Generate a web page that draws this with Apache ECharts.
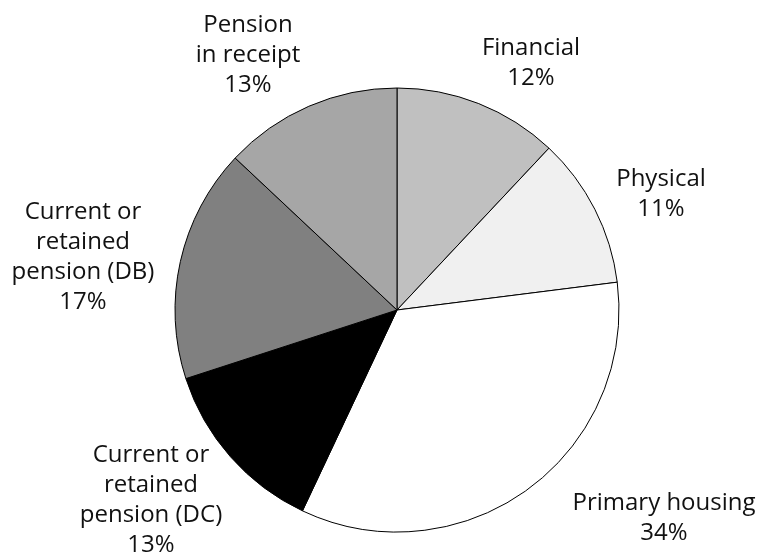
<!DOCTYPE html>
<html><head><meta charset="utf-8">
<script src="https://cdn.jsdelivr.net/npm/echarts@6/dist/echarts.min.js"></script>
<style>html,body{margin:0;padding:0;background:#fff}#c{width:760px;height:554px}</style>
</head><body><div id="c"></div>
<script>
const categories = ["Financial", "Physical", "Primary housing", "Current or\nretained\npension (DC)", "Current or\nretained\npension (DB)", "Pension\nin receipt"];
const shares = [12, 11, 34, 13, 17, 13];
const colors = ["#c0c0c0", "#f0f0f0", "#ffffff", "#000000", "#808080", "#a6a6a6"];
// label anchor points (layout only)
const labelAnchors = [[531, 63], [661, 194], [664, 518], [151, 500], [83, 257], [248, 55]];

const chart = echarts.init(document.getElementById('c'), null, {renderer: 'canvas'});
chart.setOption({
  animation: false,
  series: [{
    type: 'pie',
    center: [397, 310],
    radius: [0, 222],
    startAngle: 90,
    clockwise: true,
    avoidLabelOverlap: false,
    data: categories.map((n, i) => ({name: n, value: shares[i], itemStyle: {color: colors[i]}})),
    itemStyle: {borderColor: '#000', borderWidth: 1},
    label: {
      show: true,
      position: 'outside',
      formatter: p => p.name + '\n' + p.value + '%',
      fontFamily: 'Open Sans',
      fontSize: 24,
      lineHeight: 30,
      color: '#111',
      align: 'center'
    },
    labelLine: {show: false},
    labelLayout: function (params) {
      const a = labelAnchors[params.dataIndex];
      return {x: a[0], y: a[1], align: 'center', verticalAlign: 'middle'};
    },
    emphasis: {disabled: true}
  }]
});
</script></body></html>
